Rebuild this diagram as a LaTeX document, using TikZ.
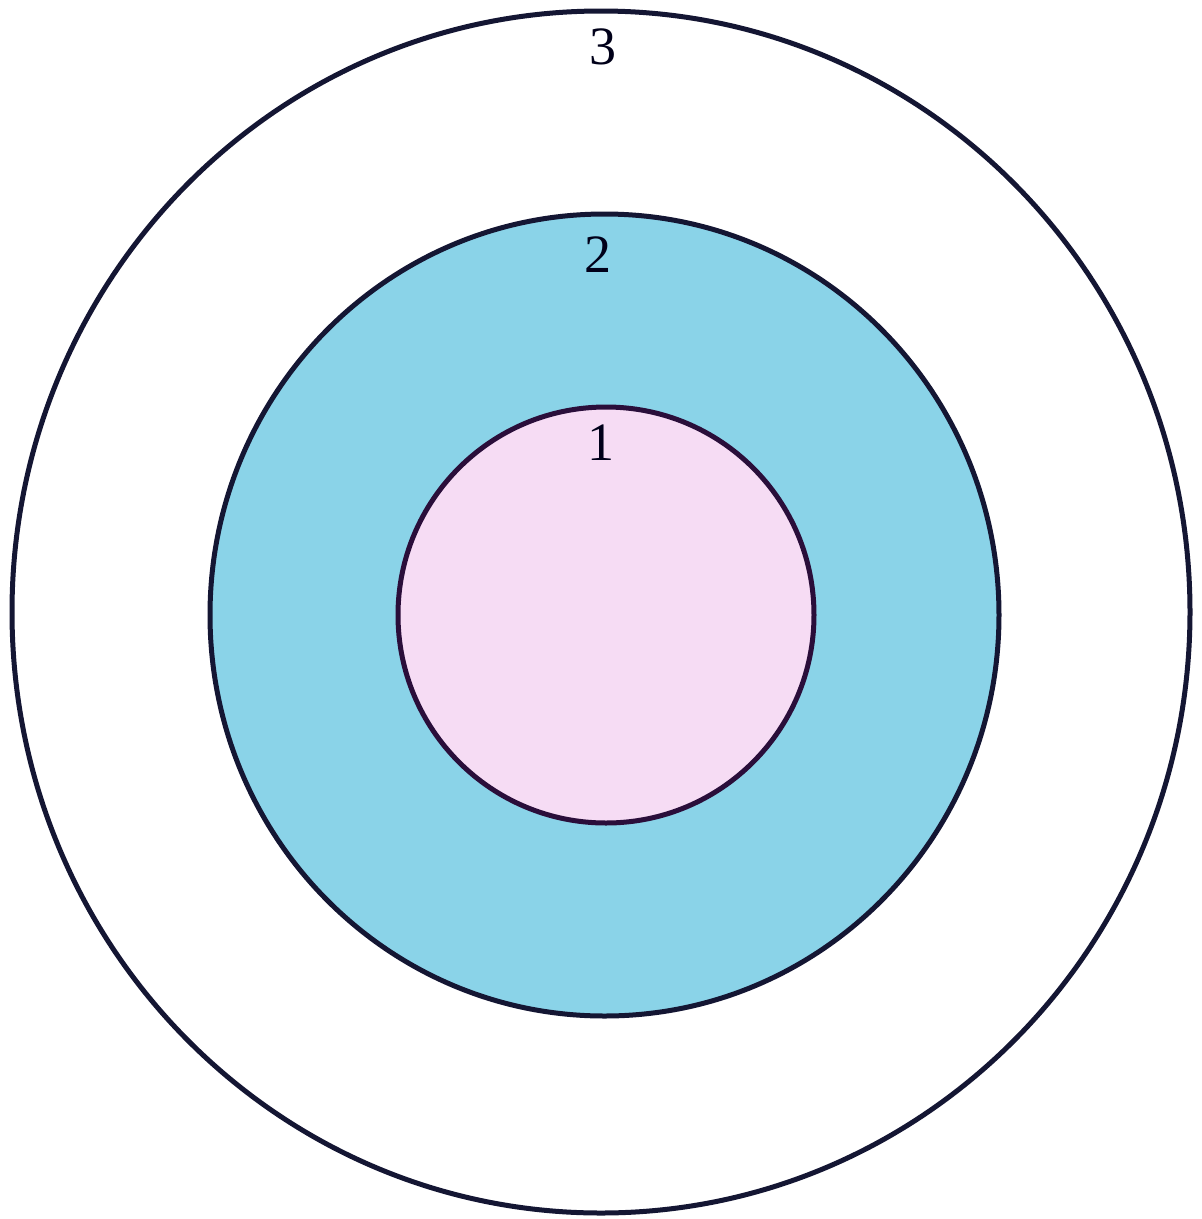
\documentclass[tikz,border=0pt]{standalone}
\usepackage{fontspec}
\setmainfont{Liberation Serif}
\begin{document}
\begin{tikzpicture}[x=1pt,y=-1pt,
  ring/.style={line width=5pt},
  lbl/.style={font=\fontsize{54}{60}\selectfont, text=black!90!blue, inner sep=0pt}]
\definecolor{ringblue}{HTML}{8AD3E8}
\definecolor{corepink}{HTML}{F6DCF4}
\definecolor{edgenavy}{HTML}{141633}
\definecolor{edgeplum}{HTML}{2A0E3A}
\useasboundingbox (0,0) rectangle (1202,1219);
\fill[white] (0,0) rectangle (1202,1219);
\draw[ring, draw=edgenavy, fill=white] (601,612) ellipse [x radius=589, y radius=601];
\draw[ring, draw=edgenavy, fill=ringblue] (604.5,615) ellipse [x radius=394.5, y radius=401];
\draw[ring, draw=edgeplum, fill=corepink] (606,615) ellipse [x radius=208, y radius=208];
\node[lbl] (l3) at (603,47) {3};
\node[lbl] (l2) at (598,255) {2};
\node[lbl] (l1) at (601,443) {1};
\end{tikzpicture}
\end{document}
